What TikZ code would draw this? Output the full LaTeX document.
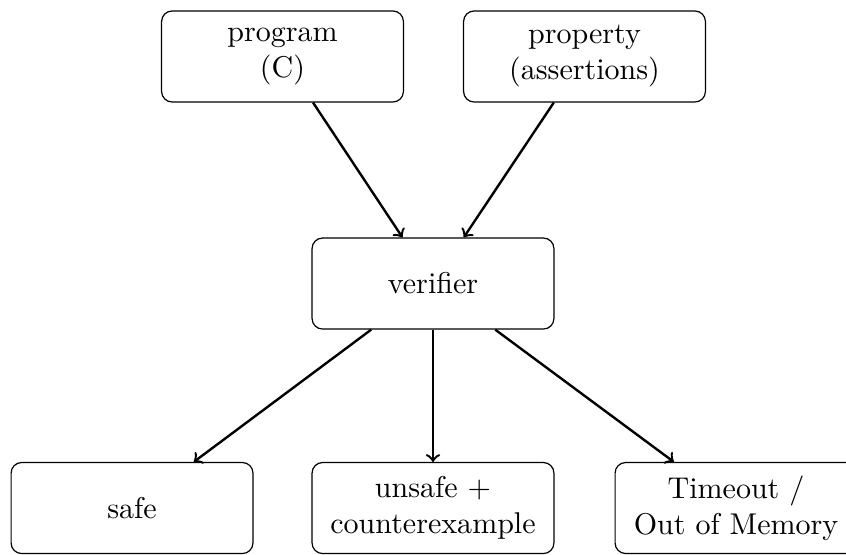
\documentclass[tikz,border=0pt]{standalone}
\usepackage{tikz}

\begin{document}
\begin{tikzpicture}
\tikzstyle{block}=[draw,rounded corners=3.5pt,align=center,inner sep=2pt,minimum width=2.83cm,minimum height=1.065cm]
\tikzstyle{line}=[black,thick,->]

\useasboundingbox (0,0) rectangle (9.9,-6.483);

\node[block] (prog) at (3.306,-0.661) {program\\(C)};
\node[block] (prop) at (6.840,-0.661) {property\\(assertions)};

\node[block] (verif) at (5.067,-3.318) {verifier};

\node[block] (safe)   at (1.545,-5.945) {safe};
\node[block] (unsafe) at (5.067,-5.945) {unsafe +\\counterexample};
\node[block] (tout)   at (8.613,-5.945) {Timeout /\\Out of Memory};

\draw[line] (prog) -- (verif);
\draw[line] (prop) -- (verif);

\draw[line] (verif) -- (safe);
\draw[line] (verif) -- (unsafe);
\draw[line] (verif) -- (tout);
\end{tikzpicture}
\end{document}
